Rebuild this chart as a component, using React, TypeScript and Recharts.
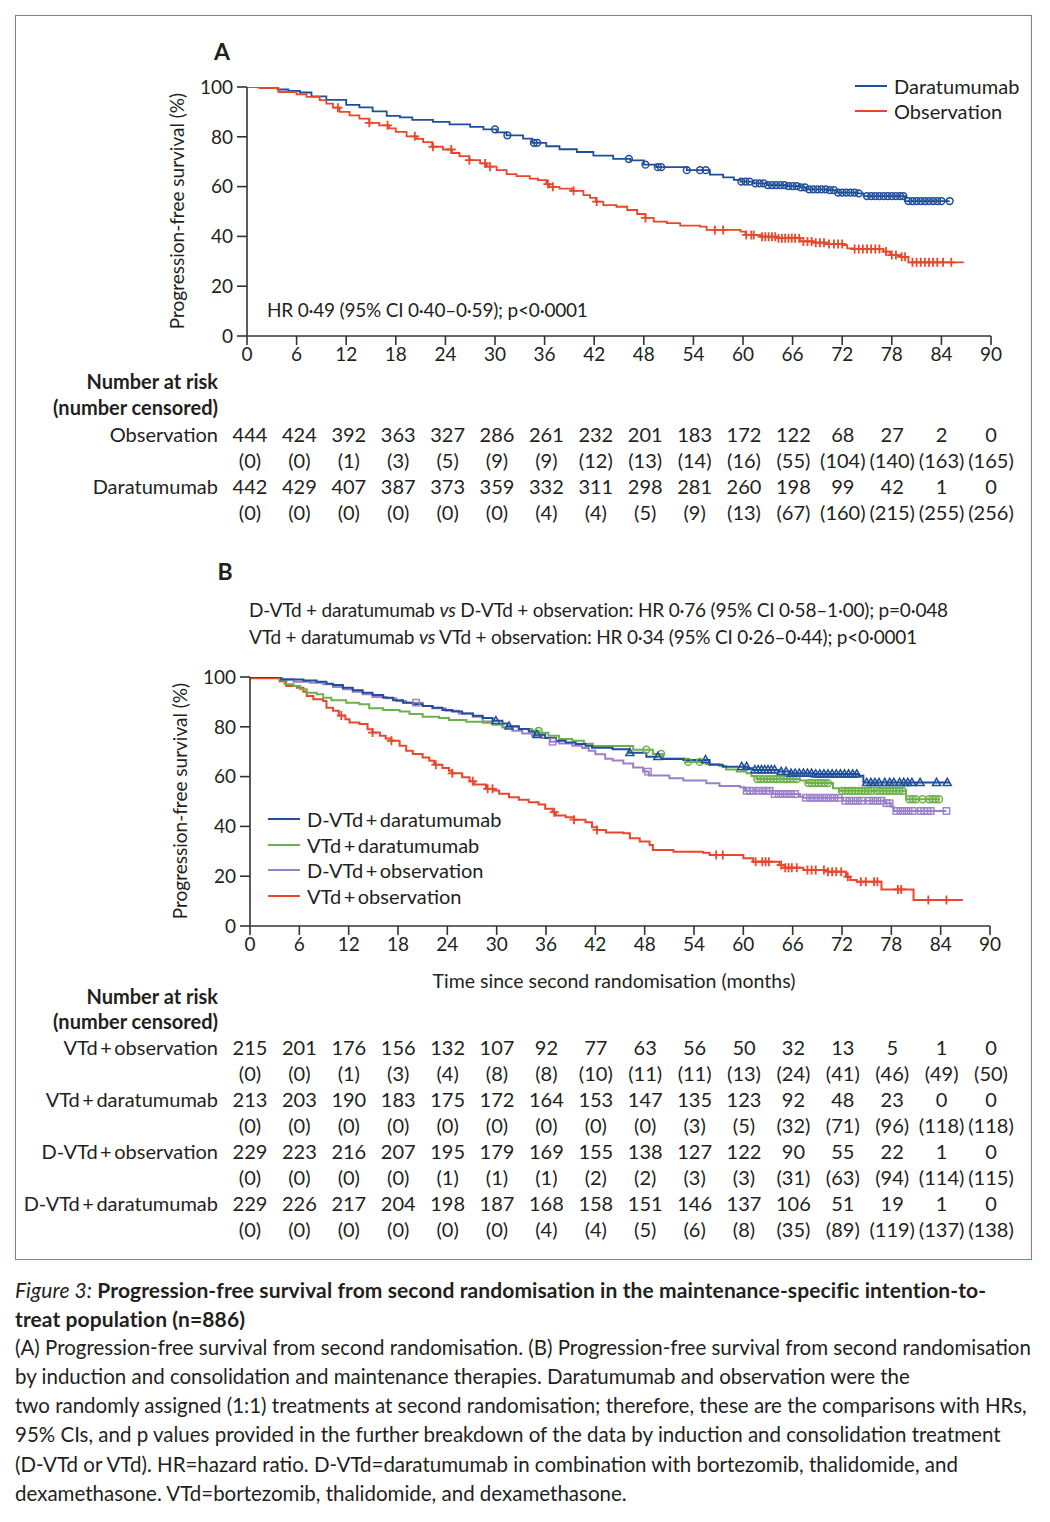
import React from 'react';
import { ComposedChart, Line, XAxis, YAxis } from 'recharts';

const FONT = 'Lato, "Open Sans", sans-serif';
const INK = '#231f20';
const AXIS = '#333333';

const BLUE = '#1f4e9d';
const RED = '#e8472b';
const GREEN = '#6db14a';
const PURPLE = '#9a80c8';

const timeTicks = [0, 6, 12, 18, 24, 30, 36, 42, 48, 54, 60, 66, 72, 78, 84, 90];
const pctTicks = [0, 20, 40, 60, 80, 100];

// ---------- Panel A ----------
const daraCurveA: [number, number][] = [
  [0, 100], [3.7, 99], [5, 98.4], [6.4, 97.8], [7.8, 96.2], [9.6, 94.8], [12, 92.8], [13.6, 91.8],
  [15.2, 90.2], [16.9, 88.4], [18.5, 87.8], [20, 86.8], [22.5, 86], [24.5, 85], [27, 84], [28.6, 83],
  [30.2, 81.8], [31.4, 80.6], [33.4, 79.3], [34.5, 77.6], [36.2, 76.2], [37.8, 75], [39.9, 73.9],
  [41.9, 72.4], [44.3, 71.1], [46.4, 70.5], [48, 68.8], [49.5, 67.8], [53.2, 66.6], [56, 64.8],
  [57.6, 63.7], [58.9, 62.7], [59.7, 62], [61.3, 61.3], [62.9, 60.6], [65.3, 60.2], [66.9, 59.7],
  [67.7, 58.9], [70.2, 58.6], [71.4, 57.6], [73.8, 57.3], [74.6, 56.2], [79.6, 54.2], [85, 54.2],
];
const obsCurveA: [number, number][] = [
  [0, 100], [1.5, 99.6], [3.8, 98], [6, 97], [7.2, 96], [8.8, 94.7], [9.6, 93.3], [10.4, 91.7],
  [11.2, 90], [12.4, 88.6], [13.6, 87.3], [14.8, 85.6], [16, 84.6], [17.2, 83.4], [18, 82],
  [19.3, 80.2], [20.5, 79.2], [21.3, 77.9], [22.4, 76], [23.7, 74.9], [24.8, 73.5], [25.7, 72.2],
  [26.9, 70.6], [28.2, 69.3], [29, 68], [30.2, 66.6], [31.4, 65], [32.6, 64.2], [34.2, 63.2],
  [35.2, 62.6], [36.2, 61], [36.6, 59.9], [37.8, 59.2], [39.3, 58.3], [40.7, 56.6], [41.5, 55.5],
  [42.2, 54], [43.1, 52.6], [44.7, 51.9], [46, 50.6], [47.2, 49], [48.2, 47.4], [49.2, 45.9],
  [50.8, 45.3], [52.4, 44.3], [54.8, 43.9], [55.6, 42.6], [59.7, 41.9], [60.3, 40.6], [62.1, 39.9],
  [64, 39.3], [66.9, 38], [68.5, 37.5], [70.2, 36.9], [72.2, 36.5], [72.6, 35.2], [73.4, 34.9],
  [77, 33.9], [77.8, 32.5], [79, 31.8], [80, 29.6], [86.7, 29.6],
];
const daraCensA = [
  30, 31.5, 34.7, 35.1, 46.2, 48.2, 49.7, 50.1, 53.2, 54.8, 55.5, 59.8, 60.3, 60.8, 61.5, 62, 62.5,
  63, 63.5, 64, 64.5, 65, 65.5, 66, 66.5, 67, 67.5, 68, 68.5, 69, 69.5, 70, 70.5, 71, 71.5, 72, 72.5,
  73, 73.5, 74, 75, 75.5, 76, 76.5, 77, 77.5, 78, 78.5, 79, 79.4, 80, 80.5, 81, 81.5, 82, 82.5, 83,
  83.5, 84, 85,
];
const obsCensA = [
  11, 14.8, 17, 20.3, 22.5, 24.7, 26.9, 28.8, 29.4, 36.4, 37, 39.5, 42.3, 48.2, 56.6, 57.6, 60.4,
  61, 61.3, 62.3, 62.7, 63.1, 63.5, 63.9, 64.3, 64.7, 65.1, 65.5, 65.9, 66.3, 66.8, 67.3, 67.8, 68.3,
  68.8, 69.3, 69.8, 70.4, 71, 71.5, 72, 73.5, 74, 74.5, 75, 75.5, 76, 76.5, 77.3, 78, 78.5, 79.2,
  79.6, 80.5, 81, 81.5, 82, 82.5, 83, 83.5, 84.2, 85.2,
];

// ---------- Panel B ----------
const dvtdDaraCurve: [number, number][] = [
  [0, 100], [3.8, 99], [6.5, 98.6], [8.1, 98.1], [9.3, 97.3], [10.1, 96.8], [11.3, 95.7], [12.5, 94.7],
  [13.7, 93.7], [14.9, 92.8], [16.2, 91.7], [17.4, 90.7], [18.6, 89.7], [19.8, 89.1], [21, 88.4],
  [22.2, 87.7], [23.4, 86.7], [24.6, 86.1], [25.8, 85.3], [27.1, 84.4], [28.3, 83.5], [29.5, 82.4],
  [30.7, 81.3], [31.3, 80.2], [32.7, 79.1], [33.9, 78.1], [34.6, 76.8], [35.9, 75.5], [37.2, 74.4],
  [38.4, 73.7], [39.6, 73.1], [40.8, 72.4], [41.6, 71.6], [44.1, 71], [46.1, 69.6], [48.2, 68],
  [50.2, 67.1], [52.7, 66.7], [55.9, 64.8], [57.5, 64], [60.5, 63.4], [61.2, 62.7], [64.4, 62],
  [65.7, 61.3], [68.5, 61], [74, 60.3], [74.6, 57.6], [85.1, 57.6],
];
const vtdDaraCurve: [number, number][] = [
  [0, 100], [3.6, 99], [4.2, 97.1], [5.3, 96.4], [6.1, 95.1], [6.9, 93.7], [8.1, 93.1], [8.9, 91.7],
  [9.9, 90.7], [11.7, 89.7], [13.3, 89.1], [14.5, 87.5], [16.2, 86.7], [18.2, 86.1], [19.4, 85.1],
  [21, 84], [23, 83.5], [24.2, 82.7], [26.3, 82], [28.3, 81.6], [29.5, 81.1], [30.7, 80], [32.7, 79.1],
  [34.3, 78.4], [35.2, 77.6], [36.3, 76.4], [37.6, 75.1], [39.2, 74.4], [40.6, 73.2], [41.7, 72.3],
  [46.6, 70.8], [49, 69.1], [50.2, 67.3], [53, 65.9], [55.5, 65], [57.1, 64.3], [57.9, 62.9],
  [59.2, 62], [60.4, 61.3], [61, 60.2], [61.6, 59], [66.9, 58.4], [67.7, 57.4], [70.9, 55.3],
  [71.7, 54.3], [79.8, 50.9], [83.9, 50.9],
];
const dvtdObsCurve: [number, number][] = [
  [0, 100], [3.8, 99.1], [5.3, 98.1], [7.3, 97.7], [8.9, 97.1], [10.1, 96], [11.3, 95.1], [12.5, 94.1],
  [13.7, 93.1], [14.9, 92], [16.6, 91.5], [17.8, 90.4], [19, 89.7], [21, 88.4], [22.2, 87.5],
  [23.8, 86.4], [25.4, 85.3], [27.1, 84], [28.3, 82.1], [29.5, 80.8], [30.7, 79.7], [31.9, 78.4],
  [33.1, 77.3], [34.3, 76.4], [35.5, 75.5], [36.5, 74], [37.6, 73.3], [39.2, 72.4], [40.4, 71.5],
  [41.2, 70.4], [42, 69], [43.2, 67.2], [44.1, 66.5], [45.4, 65.3], [46.6, 63.7], [47.8, 62],
  [48.5, 60.4], [51, 59.3], [52.7, 58.4], [55.5, 57.3], [57.1, 56.2], [59.6, 55.7], [60.2, 54.3],
  [63.6, 53], [66.9, 51.9], [67.3, 51.5], [72.1, 50.3], [77.2, 49.3], [78, 47.9], [78.3, 46.2],
  [84.7, 46.2],
];
const vtdObsCurve: [number, number][] = [
  [0, 99.5], [3.6, 98.3], [4.4, 96.4], [5.7, 95.7], [6.5, 94.1], [6.9, 92.4], [7.7, 91.1], [8.9, 90.4],
  [9.3, 87.7], [10.1, 86.4], [10.8, 84.5], [11.6, 83], [12.1, 81.7], [13.3, 81.1], [14.3, 79],
  [14.9, 77.7], [15.8, 76.4], [16.5, 75.3], [17.2, 74.4], [18.2, 72.4], [19, 70.4], [19.8, 69.1],
  [21, 67.7], [21.8, 66.4], [22.4, 64.8], [23.4, 63.5], [24.2, 62.3], [24.6, 61.3], [25.8, 59.7],
  [26.7, 58.1], [27.3, 56.8], [28.7, 55.1], [29.6, 54.4], [30.3, 53.1], [31.5, 51.7], [32.7, 50.7],
  [33.9, 49.7], [35.1, 48.8], [35.9, 47.1], [36.8, 45.7], [37.2, 44.4], [38.4, 43.7], [39.4, 42.7],
  [40.8, 41.7], [41.6, 39.7], [42.2, 38.6], [43.3, 37.6], [45.4, 37.2], [46.2, 35.2], [47.4, 33.9],
  [48.6, 32.5], [49, 30.5], [51.5, 29.8], [55.1, 29.4], [55.9, 28.5], [60, 27.2], [61.2, 25.8],
  [64.4, 24.5], [65, 23.4], [67.3, 22.5], [70.3, 21.8], [72.5, 19.8], [73, 18.5], [73.8, 17.8],
  [76.8, 14.7], [80.7, 10.4], [86.7, 10.4],
];
const dvtdDaraCens = [
  29.9, 31.5, 34.9, 46.2, 49.6, 55.4, 59.8, 60.4, 61.4, 61.8, 62.2, 62.6, 63, 63.4, 63.8, 64.6, 65.2,
  65.8, 66.3, 66.8, 67.3, 67.8, 68.3, 68.8, 69.3, 69.8, 70.3, 70.8, 71.3, 71.8, 72.3, 72.8, 73.3,
  73.8, 75, 75.5, 76, 76.5, 77.2, 77.8, 78.3, 79, 79.5, 80, 80.5, 81.5, 83.5, 84.8,
];
const vtdDaraCens = [
  35.1, 48.2, 50, 53.3, 54.7, 61.7, 62.1, 62.5, 62.9, 63.3, 63.7, 64.1, 64.5, 64.9, 65.3, 65.7, 66.1,
  66.5, 67.9, 68.3, 68.7, 69.1, 69.5, 69.9, 70.3, 72, 72.4, 72.8, 73.2, 73.6, 74, 74.4, 74.8, 75.2,
  75.6, 76.2, 76.6, 77, 77.4, 77.8, 78.2, 78.6, 79, 79.4, 80.2, 80.6, 81, 81.8, 82.6, 83, 83.4, 83.8,
];
const dvtdObsCens = [
  20.2, 36.8, 48.4, 60.4, 60.8, 61.2, 61.8, 62.3, 62.8, 63.2, 63.8, 64.3, 64.8, 65.3, 65.8, 66.3,
  67.6, 68.1, 68.6, 69.1, 69.6, 70.1, 70.6, 71.1, 71.6, 72.4, 72.9, 73.4, 73.9, 74.4, 75.3, 75.8,
  76.3, 76.8, 77.4, 77.8, 78.6, 79.1, 79.6, 80.1, 80.6, 81.6, 82, 82.4, 82.8, 84.7,
];
const vtdObsCens = [
  11.1, 14.9, 17.2, 22.6, 24.6, 27.1, 28.9, 29.5, 37, 39.4, 42.2, 56.7, 57.5, 61.5, 62.3, 62.7, 63.1,
  64.6, 65.1, 65.5, 65.9, 66.5, 67.8, 68.3, 68.8, 69.8, 70.3, 70.8, 71.3, 71.9, 72.7, 74.3, 74.9,
  75.9, 76.3, 78.8, 79.2, 82.5, 84.7,
];

// ---------- Numbers at risk ----------
const riskLabelsA = ['Observation', 'Daratumumab'];
const riskObsA = [444, 424, 392, 363, 327, 286, 261, 232, 201, 183, 172, 122, 68, 27, 2, 0];
const censObsA = [0, 0, 1, 3, 5, 9, 9, 12, 13, 14, 16, 55, 104, 140, 163, 165];
const riskDaraA = [442, 429, 407, 387, 373, 359, 332, 311, 298, 281, 260, 198, 99, 42, 1, 0];
const censDaraA = [0, 0, 0, 0, 0, 0, 4, 4, 5, 9, 13, 67, 160, 215, 255, 256];

const riskLabelsB = [
  'VTd\u2009+\u2009observation',
  'VTd\u2009+\u2009daratumumab',
  'D-VTd\u2009+\u2009observation',
  'D-VTd\u2009+\u2009daratumumab',
];
const riskVtdObs = [215, 201, 176, 156, 132, 107, 92, 77, 63, 56, 50, 32, 13, 5, 1, 0];
const censVtdObs = [0, 0, 1, 3, 4, 8, 8, 10, 11, 11, 13, 24, 41, 46, 49, 50];
const riskVtdDara = [213, 203, 190, 183, 175, 172, 164, 153, 147, 135, 123, 92, 48, 23, 0, 0];
const censVtdDara = [0, 0, 0, 0, 0, 0, 0, 0, 0, 3, 5, 32, 71, 96, 118, 118];
const riskDvtdObs = [229, 223, 216, 207, 195, 179, 169, 155, 138, 127, 122, 90, 55, 22, 1, 0];
const censDvtdObs = [0, 0, 0, 0, 1, 1, 1, 2, 2, 3, 3, 31, 63, 94, 114, 115];
const riskDvtdDara = [229, 226, 217, 204, 198, 187, 168, 158, 151, 146, 137, 106, 51, 19, 1, 0];
const censDvtdDara = [0, 0, 0, 0, 0, 0, 4, 4, 5, 6, 8, 35, 89, 119, 137, 138];

const legendA = ['Daratumumab', 'Observation'];
const legendB = [
  'D-VTd\u2009+\u2009daratumumab',
  'VTd\u2009+\u2009daratumumab',
  'D-VTd\u2009+\u2009observation',
  'VTd\u2009+\u2009observation',
];

// ---------- helpers ----------
function stepAt(curve: [number, number][], t: number) {
  let s = curve[0][1];
  for (const [ct, cs] of curve) {
    if (ct <= t) s = cs;
    else break;
  }
  return s;
}
const toPts = (curve: [number, number][]) => curve.map(([t, s]) => ({ t, s }));
const censPts = (curve: [number, number][], times: number[]) =>
  times.map((t) => ({ t, s: stepAt(curve, t) }));

type Marker = 'plus' | 'circle' | 'triangle' | 'square';
function markerDot(kind: Marker, color: string) {
  return (p: any) => {
    const { cx, cy, index } = p;
    const key = `m-${kind}-${index}`;
    if (cx == null || cy == null) return <g key={key} />;
    if (kind === 'plus')
      return (
        <path key={key} d={`M${cx - 4.5},${cy}H${cx + 4.5}M${cx},${cy - 4.5}V${cy + 4.5}`} stroke={color} strokeWidth={1.8} fill="none" />
      );
    if (kind === 'circle')
      return <circle key={key} cx={cx} cy={cy} r={3.4} fill="none" stroke={color} strokeWidth={1.5} />;
    if (kind === 'triangle')
      return (
        <polygon key={key} points={`${cx},${cy - 4.3} ${cx - 4},${cy + 2.8} ${cx + 4},${cy + 2.8}`} fill="none" stroke={color} strokeWidth={1.5} />
      );
    return <rect key={key} x={cx - 3.2} y={cy - 3.2} width={6.4} height={6.4} fill="none" stroke={color} strokeWidth={1.4} />;
  };
}

type Series = { name: string; curve: [number, number][]; cens: number[]; color: string; marker: Marker };

function KMChart(props: {
  left: number; top: number; width: number; height: number; lineWidth: number;
  margin: { top: number; right: number; bottom: number; left: number };
  series: Series[];
}) {
  const { left, top, width, height, margin, series, lineWidth } = props;
  const children: React.ReactNode[] = [];
  series.forEach((s) => {
    children.push(
      <Line key={`l-${s.name}`} data={toPts(s.curve)} dataKey="s" type="stepAfter" stroke={s.color} strokeWidth={lineWidth}
        dot={false} activeDot={false} isAnimationActive={false} />
    );
  });
  series.forEach((s) => {
    children.push(
      <Line key={`c-${s.name}`} data={censPts(s.curve, s.cens)} dataKey="s" stroke="none" dot={markerDot(s.marker, s.color)}
        activeDot={false} isAnimationActive={false} />
    );
  });
  return (
    <div style={{ position: 'absolute', left, top }}>
      <ComposedChart width={width} height={height} margin={margin}>
        <XAxis type="number" dataKey="t" domain={[0, 90]} ticks={timeTicks} interval={0} allowDataOverflow
          height={40} tickSize={9} tickMargin={3}
          axisLine={{ stroke: AXIS, strokeWidth: 1.6 }} tickLine={{ stroke: AXIS, strokeWidth: 1.6 }}
          tick={{ fill: INK, fontSize: 19, fontFamily: FONT }} />
        <YAxis type="number" domain={[0, 100]} ticks={pctTicks} interval={0} allowDataOverflow
          width={60} tickSize={10} tickMargin={4}
          axisLine={{ stroke: AXIS, strokeWidth: 1.6 }} tickLine={{ stroke: AXIS, strokeWidth: 1.6 }}
          tick={{ fill: INK, fontSize: 19, fontFamily: FONT }} />
        {children}
      </ComposedChart>
    </div>
  );
}

function Txt(props: {
  x: number; y: number; anchor?: 'start' | 'middle' | 'end'; size?: number; weight?: number;
  style?: React.CSSProperties; children: React.ReactNode;
}) {
  const { x, y, anchor = 'start', size = 20, weight = 400, style, children } = props;
  const tx = anchor === 'start' ? '0' : anchor === 'middle' ? '-50%' : '-100%';
  return (
    <div style={{
      position: 'absolute', left: x, top: y, transform: `translate(${tx},-50%)`, fontSize: size,
      fontWeight: weight, fontFamily: FONT, color: INK, whiteSpace: 'nowrap', lineHeight: 1, ...style,
    }}>{children}</div>
  );
}

function VLabel({ x, y, text }: { x: number; y: number; text: string }) {
  return (
    <div style={{
      position: 'absolute', left: x, top: y, transform: 'translate(-50%,-50%) rotate(-90deg)', fontSize: 19,
      fontFamily: FONT, color: INK, whiteSpace: 'nowrap', lineHeight: 1,
    }}>{text}</div>
  );
}

const colX = timeTicks.map((_, i) => 250 + i * 49.4);

function RiskRows({ labels, rows, y0 }: { labels: string[]; rows: [number[], number[]][]; y0: number }) {
  const out: React.ReactNode[] = [];
  rows.forEach(([risk, cens], r) => {
    const y = y0 + r * 52;
    out.push(<Txt key={`lab${r}`} x={218} y={y} anchor="end">{labels[r]}</Txt>);
    risk.forEach((v, i) => out.push(<Txt key={`r${r}-${i}`} x={colX[i]} y={y} anchor="middle">{v}</Txt>));
    cens.forEach((v, i) => out.push(<Txt key={`c${r}-${i}`} x={colX[i]} y={y + 26} anchor="middle">({v})</Txt>));
  });
  return <>{out}</>;
}

function LegendBlock({ x, y0, gap, names, colors }: { x: number; y0: number; gap: number; names: string[]; colors: string[] }) {
  return (
    <>
      {names.map((n, i) => (
        <React.Fragment key={n}>
          <div style={{ position: 'absolute', left: x, top: y0 + i * gap - 1, width: 32, height: 2, background: colors[i] }} />
          <Txt x={x + 39} y={y0 + i * gap} size={20}>{n}</Txt>
        </React.Fragment>
      ))}
    </>
  );
}

const captionLines = [
  'two randomly assigned (1:1) treatments at second randomisation; therefore, these are the comparisons with HRs,',
  '95% CIs, and p values provided in the further breakdown of the data by induction and consolidation treatment',
  '(D-VTd or VTd). HR=hazard ratio. D-VTd=daratumumab in combination with bortezomib, thalidomide, and',
  'dexamethasone. VTd=bortezomib, thalidomide, and dexamethasone.',
];

export default function App() {
  const seriesA: Series[] = [
    { name: 'Daratumumab', curve: daraCurveA, cens: daraCensA, color: BLUE, marker: 'circle' },
    { name: 'Observation', curve: obsCurveA, cens: obsCensA, color: RED, marker: 'plus' },
  ];
  const seriesB: Series[] = [
    { name: 'VTd+observation', curve: vtdObsCurve, cens: vtdObsCens, color: RED, marker: 'plus' },
    { name: 'D-VTd+observation', curve: dvtdObsCurve, cens: dvtdObsCens, color: PURPLE, marker: 'square' },
    { name: 'VTd+daratumumab', curve: vtdDaraCurve, cens: vtdDaraCens, color: GREEN, marker: 'circle' },
    { name: 'D-VTd+daratumumab', curve: dvtdDaraCurve, cens: dvtdDaraCens, color: BLUE, marker: 'triangle' },
  ];
  const boldCap: React.CSSProperties = { letterSpacing: '0.1px' };
  const hrStyle: React.CSSProperties = { letterSpacing: '-0.2px' };
  return (
    <div style={{ position: 'absolute', left: 0, top: 0, width: 1050, height: 1522 }}>
      <div style={{ position: 'absolute', left: 15, top: 15, width: 1017, height: 1245, border: '1.5px solid #b86a74', boxSizing: 'border-box' }} />

      {/* Panel A */}
      <Txt x={222} y={51} size={23} weight={700} anchor="middle">A</Txt>
      <KMChart left={0} top={40} width={1050} height={340} lineWidth={1.8}
        margin={{ top: 47, right: 59, bottom: 4, left: 187 }} series={seriesA} />
      <VLabel x={176} y={211} text="Progression-free survival (%)" />
      <LegendBlock x={855} y0={86} gap={25} names={legendA} colors={[BLUE, RED]} />
      <Txt x={267} y={309} size={19} style={hrStyle}>HR 0·49 (95% CI 0·40–0·59); p&lt;0·0001</Txt>

      <Txt x={218} y={381} anchor="end" weight={700}>Number at risk</Txt>
      <Txt x={218} y={407} anchor="end" weight={700}>(number censored)</Txt>
      <RiskRows labels={riskLabelsA} rows={[[riskObsA, censObsA], [riskDaraA, censDaraA]]} y0={434} />

      {/* Panel B */}
      <Txt x={225} y={571} size={23} weight={700} anchor="middle">B</Txt>
      <Txt x={249} y={609} size={19} style={hrStyle}>D-VTd + daratumumab <i>vs</i> D-VTd + observation: HR 0·76 (95% CI 0·58–1·00); p=0·048</Txt>
      <Txt x={249} y={636} size={19} style={hrStyle}>VTd + daratumumab <i>vs</i> VTd + observation: HR 0·34 (95% CI 0·26–0·44); p&lt;0·0001</Txt>
      <KMChart left={0} top={650} width={1050} height={320} lineWidth={2}
        margin={{ top: 27, right: 60, bottom: 4, left: 190 }} series={seriesB} />
      <VLabel x={179} y={801} text="Progression-free survival (%)" />
      <LegendBlock x={268} y0={819} gap={25.7} names={legendB} colors={[BLUE, GREEN, PURPLE, RED]} />
      <Txt x={614} y={981} anchor="middle" size={19.5}>Time since second randomisation (months)</Txt>

      <Txt x={218} y={996} anchor="end" weight={700}>Number at risk</Txt>
      <Txt x={218} y={1021} anchor="end" weight={700}>(number censored)</Txt>
      <RiskRows labels={riskLabelsB}
        rows={[[riskVtdObs, censVtdObs], [riskVtdDara, censVtdDara], [riskDvtdObs, censDvtdObs], [riskDvtdDara, censDvtdDara]]}
        y0={1047} />

      {/* Caption */}
      <Txt x={15} y={1289} size={21} weight={700} style={boldCap}>
        <i style={{ fontWeight: 400 }}>Figure 3:</i> Progression-free survival from second randomisation in the maintenance-specific intention-to-
      </Txt>
      <Txt x={15} y={1318} size={21} weight={700} style={boldCap}>treat population (n=886)</Txt>
      <Txt x={15} y={1347} size={20.5}>(A) Progression-free survival from second randomisation. (B) Progression-free survival from second randomisation</Txt>
      <Txt x={15} y={1376} size={20.5}>by induction and consolidation and maintenance therapies. Daratumumab and observation were the</Txt>
      {captionLines.map((l, i) => (
        <Txt key={i} x={15} y={1405 + i * 29.3} size={20.5}>{l}</Txt>
      ))}
    </div>
  );
}
